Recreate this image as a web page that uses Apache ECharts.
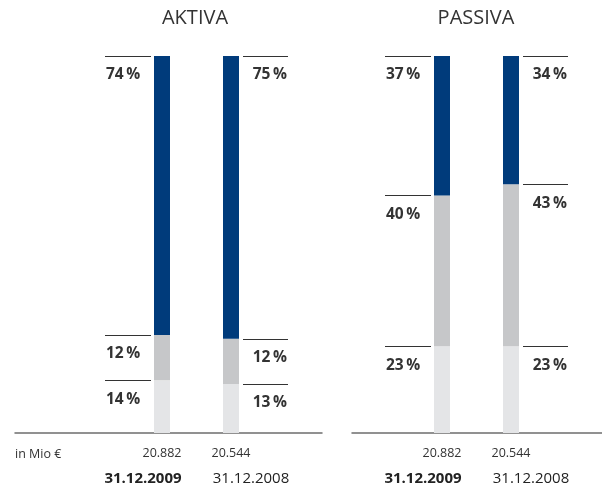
<!DOCTYPE html>
<html>
<head>
<meta charset="utf-8">
<script src="https://cdn.jsdelivr.net/npm/echarts@6/dist/echarts.min.js"></script>
<style>
  html, body { margin: 0; background: #fff; }
  #main { width: 602px; height: 499px; }
</style>
</head>
<body>
<div id="main"></div>
<script>
const categories = ['31.12.2009', '31.12.2008'];
const totals = ['20.882', '20.544'];
const panels = ['AKTIVA', 'PASSIVA'];
// Anteile in %, von unten nach oben
const aktivaBottom = [14, 13];
const aktivaMiddle = [12, 12];
const aktivaTop = [74, 75];
const passivaBottom = [23, 23];
const passivaMiddle = [40, 43];
const passivaTop = [37, 34];

const colors = ['#e4e5e7', '#c6c7c9', '#003b7b'];
const font = '"Open Sans", sans-serif';

const chartDom = document.getElementById('main');
const myChart = echarts.init(chartDom);

function segmentLabels(segments) {
  // leader line at top of each segment, percent text below it
  const items = [];
  for (let i = 0; i < categories.length; i++) {
    let cum = 0;
    segments.forEach(seg => {
      cum += seg[i];
      items.push([i, cum, seg[i] + '\u2009%']);
    });
  }
  return items;
}

function labelSeries(g, items) {
  return {
    type: 'custom',
    xAxisIndex: g,
    yAxisIndex: g,
    z: 5,
    silent: true,
    data: items.map(d => [d[0], d[1]]),
    renderItem: function (params, api) {
      const it = items[params.dataIndex];
      const p = api.coord([it[0], it[1]]);
      const left = it[0] === 0;
      const y = Math.round(p[1]) + 0.5;
      return {
        type: 'group',
        children: [
          {
            type: 'line',
            shape: { x1: left ? p[0] - 57 : p[0] + 12, y1: y, x2: left ? p[0] - 11 : p[0] + 57, y2: y },
            style: { stroke: '#333', lineWidth: 1 }
          },
          {
            type: 'text',
            x: left ? p[0] - 56 : p[0] + 56,
            y: p[1] + 19,
            style: {
              text: it[2], font: 'bold 15.5px ' + font, fill: '#333',
              align: left ? 'left' : 'right', verticalAlign: 'middle'
            }
          }
        ]
      };
    }
  };
}

function footerSeries(g) {
  return {
    type: 'custom',
    xAxisIndex: g,
    yAxisIndex: g,
    silent: true,
    data: categories.map((c, i) => [i, 0]),
    renderItem: function (params, api) {
      const i = params.dataIndex;
      const p = api.coord([i, 0]);
      return {
        type: 'group',
        children: [
          {
            type: 'text', x: p[0], y: p[1] + 20,
            style: { text: totals[i], font: '12.5px ' + font, fill: '#333', align: 'center', verticalAlign: 'middle' }
          },
          {
            type: 'text', x: p[0] + (i === 0 ? -19 : 20), y: p[1] + 46,
            style: {
              text: categories[i], font: (i === 0 ? 'bold ' : '') + '15px ' + font, fill: '#222',
              align: 'center', verticalAlign: 'middle'
            }
          }
        ]
      };
    }
  };
}

function barSeries(g, segments) {
  return segments.map((seg, s) => ({
    type: 'bar',
    xAxisIndex: g,
    yAxisIndex: g,
    stack: 'p' + g,
    barWidth: 16,
    silent: true,
    itemStyle: { color: colors[s] },
    data: seg
  }));
}

const aktiva = [aktivaBottom, aktivaMiddle, aktivaTop];
const passiva = [passivaBottom, passivaMiddle, passivaTop];

const hidden = { axisLine: { show: false }, axisTick: { show: false }, axisLabel: { show: false }, splitLine: { show: false } };
const baseLine = {
  type: 'value', min: 0, max: 1,
  axisLine: { show: true, lineStyle: { color: '#6e6e6e', width: 1.5 } },
  axisTick: { show: false }, axisLabel: { show: false }, splitLine: { show: false }
};

let option = {
  animation: false,
  grid: [
    // bar areas
    { left: 127.5, right: 336.5, top: 56, bottom: 66 },
    { left: 407.5, right: 56.5, top: 56, bottom: 66 },
    // full-width base lines
    { left: 15, right: 280, top: 56, bottom: 66 },
    { left: 352, right: 0, top: 56, bottom: 66 }
  ],
  xAxis: [
    { type: 'category', gridIndex: 0, data: categories, ...hidden },
    { type: 'category', gridIndex: 1, data: categories, ...hidden },
    { ...baseLine, gridIndex: 2 },
    { ...baseLine, gridIndex: 3 }
  ],
  yAxis: [
    { type: 'value', gridIndex: 0, min: 0, max: 100, show: false },
    { type: 'value', gridIndex: 1, min: 0, max: 100, show: false },
    { type: 'value', gridIndex: 2, min: 0, max: 1, show: false },
    { type: 'value', gridIndex: 3, min: 0, max: 1, show: false }
  ],
  graphic: [
    { type: 'text', x: 195, y: 18, style: { text: panels[0], font: '20px ' + font, fill: '#333', align: 'center', verticalAlign: 'middle' } },
    { type: 'text', x: 476, y: 18, style: { text: panels[1], font: '20px ' + font, fill: '#333', align: 'center', verticalAlign: 'middle' } },
    { type: 'text', x: 15, y: 454, style: { text: 'in Mio €', font: '12.5px ' + font, fill: '#333', align: 'left', verticalAlign: 'middle' } }
  ],
  series: [
    ...barSeries(0, aktiva),
    ...barSeries(1, passiva),
    labelSeries(0, segmentLabels(aktiva)),
    labelSeries(1, segmentLabels(passiva)),
    footerSeries(0),
    footerSeries(1)
  ]
};

option && myChart.setOption(option);
</script>
</body>
</html>
